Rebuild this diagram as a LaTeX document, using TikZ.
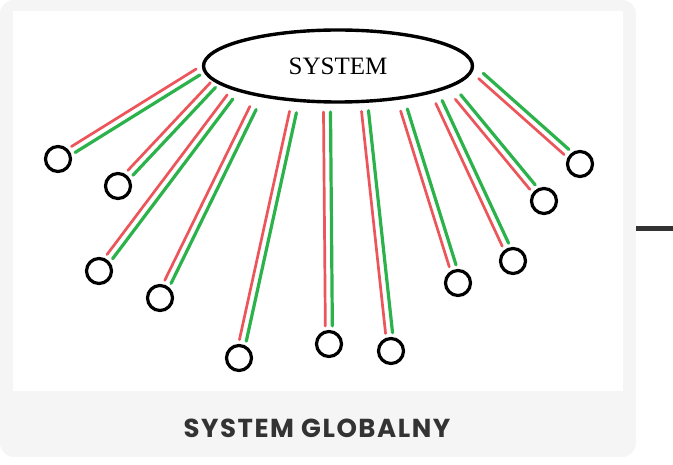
\documentclass[tikz,border=0pt]{standalone}
\usepackage{fontspec}
\setmainfont{Liberation Serif}
\setsansfont{Poppins}
\usetikzlibrary{calc, shapes.geometric}
\definecolor{cardgray}{RGB}{245,245,245}
\definecolor{spokered}{RGB}{236,86,90}
\definecolor{spokegreen}{RGB}{44,178,74}
\definecolor{titlegray}{RGB}{51,51,51}

\begin{document}
\begin{tikzpicture}[x=1pt, y=-1pt,
    endpoint/.style={circle, draw, line width=3.2pt, minimum size=25pt, inner sep=0pt, fill=white},
    redline/.style={spokered, line width=2.7pt, line cap=round, shorten >=18pt},
    greenline/.style={spokegreen, line width=3.2pt, line cap=round, shorten >=18pt}]
      \useasboundingbox (0,0) rectangle (673,465);
      \fill[cardgray, rounded corners=14pt] (0,0) rectangle (636,457);
      \fill[white] (13,11) rectangle (623,391);
      \draw[titlegray, line width=4.5pt] (636,228.5) -- (673,228.5);

      \node[ellipse, draw, line width=3.4pt, minimum width=269pt, minimum height=72pt, inner sep=0pt,
            font=\fontsize{25}{29}\selectfont] (sys) at (338,66) {SYSTEM};

      \foreach \i/\sx/\sy/\cx/\cy in {1/198/72/58/159, 2/213/85/118/186, 3/230/97/99/271,
          4/253/108/160/298, 5/293/112/239/358, 6/327/112/329/344, 7/365/111/391/351,
          8/404/110/458/283, 9/439/102/513/261, 10/458/97/544/201, 11/481/76/580/164} {
        \coordinate (s\i) at (\sx,\sy);
        \node[endpoint] (c\i) at (\cx,\cy) {};
        \draw[redline] ($(s\i)!3.5pt!-90:(c\i)$) -- ($(c\i)!3.5pt!90:(s\i)$);
        \draw[greenline] ($(s\i)!3.5pt!90:(c\i)$) -- ($(c\i)!3.5pt!-90:(s\i)$);
      }

      \node[font=\sffamily\bfseries\fontsize{26}{30}\selectfont\addfontfeature{LetterSpace=6}, text=titlegray] (title) at (317,428) {SYSTEM GLOBALNY};
    \end{tikzpicture}
\end{document}
